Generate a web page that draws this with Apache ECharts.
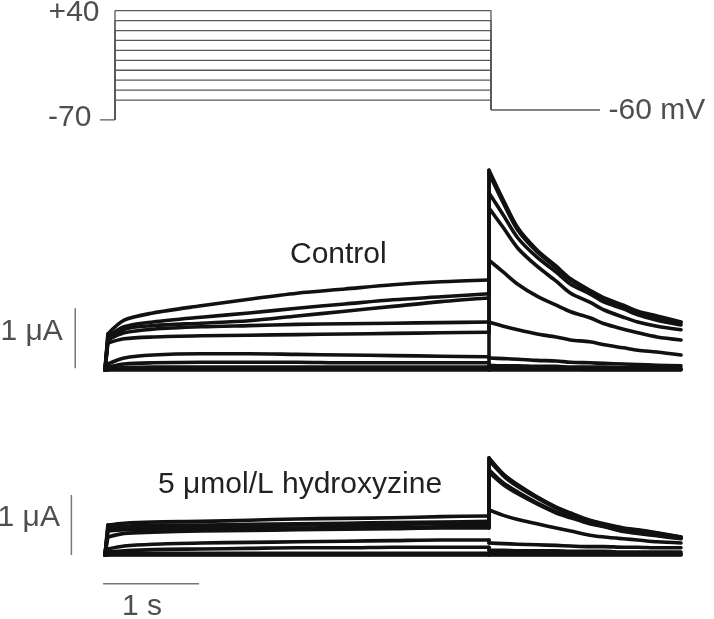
<!DOCTYPE html>
<html><head><meta charset="utf-8">
<script src="https://cdn.jsdelivr.net/npm/echarts@6/dist/echarts.min.js"></script>
<style>html,body{margin:0;padding:0;background:#fff}#c{width:714px;height:619px}</style>
</head><body><div id="c"></div>
<script>
// ---------- voltage protocol ----------
const stepVoltages = [40, 30, 20, 10, 0, -10, -20, -30, -40, -50];   // mV
const holdingPotential = -70;   // mV
const tailPotential = -60;      // mV
const protoHoldStart = -0.16, protoStepOn = 0, protoStepOff = 4, protoTailEnd = 5.16; // s

// ---------- current traces (µA) ----------
const stepTimes = [0, 0.03, 0.2, 0.5, 1.0, 1.5, 2.0, 2.5, 3.0, 3.5, 4.0];            // s
const tailTimes = [4.0, 4.15, 4.3, 4.5, 4.7, 4.85, 5.05, 5.2, 5.4, 5.55, 5.75, 6.0];   // s

// rows follow stepVoltages order
const controlStepCurrents = [
  [0, 0.45, 0.52, 0.55, 0.57, 0.58, 0.59, 0.60, 0.61, 0.62, 0.63],
  [0, 0.50, 0.62, 0.68, 0.72, 0.74, 0.76, 0.77, 0.78, 0.79, 0.80],
  [0, 0.50, 0.68, 0.74, 0.78, 0.82, 0.90, 0.98, 1.06, 1.14, 1.20],
  [0, 0.55, 0.72, 0.80, 0.88, 0.95, 1.03, 1.10, 1.17, 1.22, 1.27],
  [0, 0.60, 0.83, 0.95, 1.07, 1.18, 1.28, 1.35, 1.42, 1.47, 1.50],
  [0, 0.10, 0.20, 0.25, 0.27, 0.27, 0.26, 0.25, 0.24, 0.23, 0.22],
  [0, 0.05, 0.10, 0.12, 0.13, 0.13, 0.13, 0.12, 0.12, 0.12, 0.12],
  [0, 0.02, 0.04, 0.05, 0.05, 0.05, 0.05, 0.05, 0.05, 0.05, 0.05],
  [0, 0.01, 0.02, 0.02, 0.02, 0.02, 0.02, 0.02, 0.02, 0.02, 0.02],
  [0, 0, 0, 0, 0, 0, 0, 0, 0, 0, 0]
];
const controlTailCurrents = [
  [3.33, 2.83, 2.37, 2.00, 1.73, 1.52, 1.33, 1.20, 1.08, 0.98, 0.90, 0.80],
  [3.28, 2.78, 2.33, 1.97, 1.70, 1.50, 1.31, 1.18, 1.06, 0.96, 0.88, 0.79],
  [2.95, 2.58, 2.20, 1.88, 1.63, 1.43, 1.27, 1.13, 1.02, 0.92, 0.83, 0.75],
  [2.70, 2.37, 2.03, 1.73, 1.48, 1.28, 1.13, 1.00, 0.88, 0.80, 0.73, 0.67],
  [1.83, 1.63, 1.43, 1.23, 1.08, 0.97, 0.87, 0.77, 0.68, 0.62, 0.55, 0.50],
  [0.80, 0.73, 0.67, 0.60, 0.55, 0.50, 0.47, 0.42, 0.37, 0.33, 0.30, 0.25],
  [0.20, 0.19, 0.18, 0.16, 0.15, 0.13, 0.12, 0.11, 0.10, 0.09, 0.08, 0.07],
  [0.08, 0.07, 0.07, 0.06, 0.06, 0.05, 0.05, 0.05, 0.04, 0.04, 0.04, 0.03],
  [0.03, 0.03, 0.02, 0.02, 0.02, 0.02, 0.01, 0.01, 0.01, 0.01, 0.01, 0.01],
  [0, 0, 0, 0, 0, 0, 0, 0, 0, 0, 0, 0]
];
const hydroxyzineStepCurrents = [
  [0, 0.40, 0.42, 0.43, 0.44, 0.45, 0.45, 0.46, 0.46, 0.47, 0.47],
  [0, 0.42, 0.45, 0.47, 0.48, 0.49, 0.50, 0.50, 0.51, 0.52, 0.52],
  [0, 0.45, 0.48, 0.50, 0.50, 0.51, 0.52, 0.53, 0.54, 0.55, 0.56],
  [0, 0.50, 0.53, 0.55, 0.56, 0.58, 0.60, 0.61, 0.62, 0.64, 0.65],
  [0, 0.30, 0.36, 0.38, 0.40, 0.41, 0.42, 0.43, 0.44, 0.45, 0.45],
  [0, 0.10, 0.15, 0.18, 0.20, 0.21, 0.22, 0.23, 0.24, 0.25, 0.25],
  [0, 0.05, 0.07, 0.09, 0.10, 0.11, 0.12, 0.12, 0.13, 0.13, 0.13],
  [0, 0.02, 0.03, 0.03, 0.03, 0.03, 0.03, 0.03, 0.03, 0.03, 0.03],
  [0, 0.01, 0.01, 0.01, 0.01, 0.01, 0.01, 0.01, 0.01, 0.01, 0.01],
  [0, 0, 0, 0, 0, 0, 0, 0, 0, 0, 0]
];
const hydroxyzineTailCurrents = [
  [1.62, 1.35, 1.17, 0.97, 0.80, 0.70, 0.58, 0.52, 0.45, 0.42, 0.37, 0.30],
  [1.58, 1.32, 1.14, 0.95, 0.78, 0.68, 0.57, 0.51, 0.44, 0.41, 0.36, 0.30],
  [1.42, 1.20, 1.05, 0.87, 0.72, 0.64, 0.53, 0.48, 0.40, 0.37, 0.33, 0.28],
  [1.38, 1.17, 1.02, 0.85, 0.70, 0.62, 0.52, 0.47, 0.39, 0.36, 0.32, 0.27],
  [0.75, 0.66, 0.59, 0.52, 0.45, 0.40, 0.33, 0.30, 0.27, 0.25, 0.22, 0.20],
  [0.20, 0.19, 0.18, 0.17, 0.16, 0.15, 0.14, 0.14, 0.13, 0.13, 0.12, 0.12],
  [0.08, 0.08, 0.07, 0.07, 0.07, 0.06, 0.06, 0.06, 0.05, 0.05, 0.05, 0.05],
  [0.03, 0.03, 0.03, 0.03, 0.02, 0.02, 0.02, 0.02, 0.02, 0.02, 0.02, 0.02],
  [0.01, 0.01, 0.01, 0.01, 0.01, 0.01, 0.01, 0.01, 0.01, 0.01, 0.01, 0.01],
  [0, 0, 0, 0, 0, 0, 0, 0, 0, 0, 0, 0]
];

// ---------- scale bars ----------
const controlAmpBar = { t: -0.31, from: 0.03, to: 1.03 };      // 1 µA
const hydroxyzineAmpBar = { t: -0.35, from: 0, to: 1 };         // 1 µA
const timeBar = { from: -0.02, to: 0.98, level: -0.48 };        // 1 s

const panelLabels = ['Control', '5 μmol/L hydroxyzine'];

// ---------- build ----------
const FONT = 'Liberation Sans, Arial, sans-serif';
const TXT = '#222';
const series = [];
const protoStyle = { color: '#5a5a5a', width: 1.3 };

function line(axisIdx, data, style, smooth) {
  series.push({ type: 'line', xAxisIndex: axisIdx, yAxisIndex: axisIdx, silent: true, showSymbol: false,
    smooth: smooth || false, lineStyle: style, data });
}

line(0, [[protoHoldStart, holdingPotential], [protoStepOn, holdingPotential]], protoStyle);
stepVoltages.forEach(v => {
  line(0, [[protoStepOn, holdingPotential], [protoStepOn, v], [protoStepOff, v], [protoStepOff, tailPotential]], protoStyle);
});
line(0, [[protoStepOff, tailPotential], [protoTailEnd, tailPotential]], protoStyle);

function textPoint(axisIdx, pt, text, position, distance, offset) {
  series.push({ type: 'scatter', xAxisIndex: axisIdx, yAxisIndex: axisIdx, silent: true,
    symbolSize: 1, itemStyle: { color: 'rgba(0,0,0,0)' },
    label: { show: true, formatter: text, position: position, distance: distance, offset: offset || [0, 0],
      fontFamily: FONT, fontSize: 30, color: TXT },
    data: [pt] });
}
const vMax = Math.max(...stepVoltages);
textPoint(0, [protoStepOn, vMax], '+' + vMax, 'left', 15, [0, 2]);
textPoint(0, [protoHoldStart, holdingPotential], String(holdingPotential), 'left', 8, [0, -2]);
textPoint(0, [protoTailEnd, tailPotential], tailPotential + ' mV', 'right', 8, [0, 1]);

const traceStyle = { color: '#111', width: 3.6, cap: 'round', join: 'round' };
function tracePanel(axisIdx, stepRows, tailRows) {
  stepRows.forEach((row, i) => {
    // onset (straight), slow phase (smooth), jump to tail (straight), tail decay (smooth)
    line(axisIdx, [[stepTimes[0], row[0]], [stepTimes[1], row[1]]], traceStyle);
    line(axisIdx, stepTimes.slice(1).map((t, k) => [t, row[k + 1]]), traceStyle, 0.3);
    line(axisIdx, [[stepTimes[stepTimes.length - 1], row[row.length - 1]], [tailTimes[0], tailRows[i][0]]], traceStyle);
    line(axisIdx, tailTimes.map((t, k) => [t, tailRows[i][k]]), traceStyle, 0.3);
  });
}
tracePanel(1, controlStepCurrents, controlTailCurrents);
tracePanel(2, hydroxyzineStepCurrents, hydroxyzineTailCurrents);

const barStyle = { color: '#777', width: 1.5 };
line(1, [[controlAmpBar.t, controlAmpBar.from], [controlAmpBar.t, controlAmpBar.to]], barStyle);
textPoint(1, [controlAmpBar.t, (controlAmpBar.from + controlAmpBar.to) / 2], '1 μA', 'left', 12, [0, -6]);
line(2, [[hydroxyzineAmpBar.t, hydroxyzineAmpBar.from], [hydroxyzineAmpBar.t, hydroxyzineAmpBar.to]], barStyle);
textPoint(2, [hydroxyzineAmpBar.t, (hydroxyzineAmpBar.from + hydroxyzineAmpBar.to) / 2], '1 μA', 'left', 11, [0, -7]);
line(2, [[timeBar.from, timeBar.level], [timeBar.to, timeBar.level]], barStyle);
textPoint(2, [(timeBar.from + timeBar.to) / 2, timeBar.level], '1 s', 'inside', 0, [-9, 23]);

const hiddenX = (min, max, g) => ({ type: 'value', gridIndex: g, min, max, show: false });
const hiddenY = (min, max, g) => ({ type: 'value', gridIndex: g, min, max, show: false });

const chart = echarts.init(document.getElementById('c'), null, { renderer: 'canvas' });
chart.setOption({
  animation: false,
  backgroundColor: '#fff',
  textStyle: { fontFamily: FONT },
  title: [
    { text: panelLabels[0], left: 290, top: 240, padding: 0,
      textStyle: { fontFamily: FONT, fontSize: 30, fontWeight: 'normal', color: TXT } },
    { text: panelLabels[1], left: 158, top: 470, padding: 0,
      textStyle: { fontFamily: FONT, fontSize: 30, fontWeight: 'normal', color: TXT } }
  ],
  grid: [
    { left: 96.2, top: 5.7, width: 507.6, height: 119.2 },
    { left: 66.6, top: 160, width: 614.4, height: 216 },
    { left: 66.6, top: 447, width: 614.4, height: 144 }
  ],
  xAxis: [hiddenX(-0.2, 5.2, 0), hiddenX(-0.4, 6.0, 1), hiddenX(-0.4, 6.0, 2)],
  yAxis: [hiddenY(-75, 45, 0), hiddenY(-0.1, 3.5, 1), hiddenY(-0.6, 1.8, 2)],
  series
});
</script></body></html>
